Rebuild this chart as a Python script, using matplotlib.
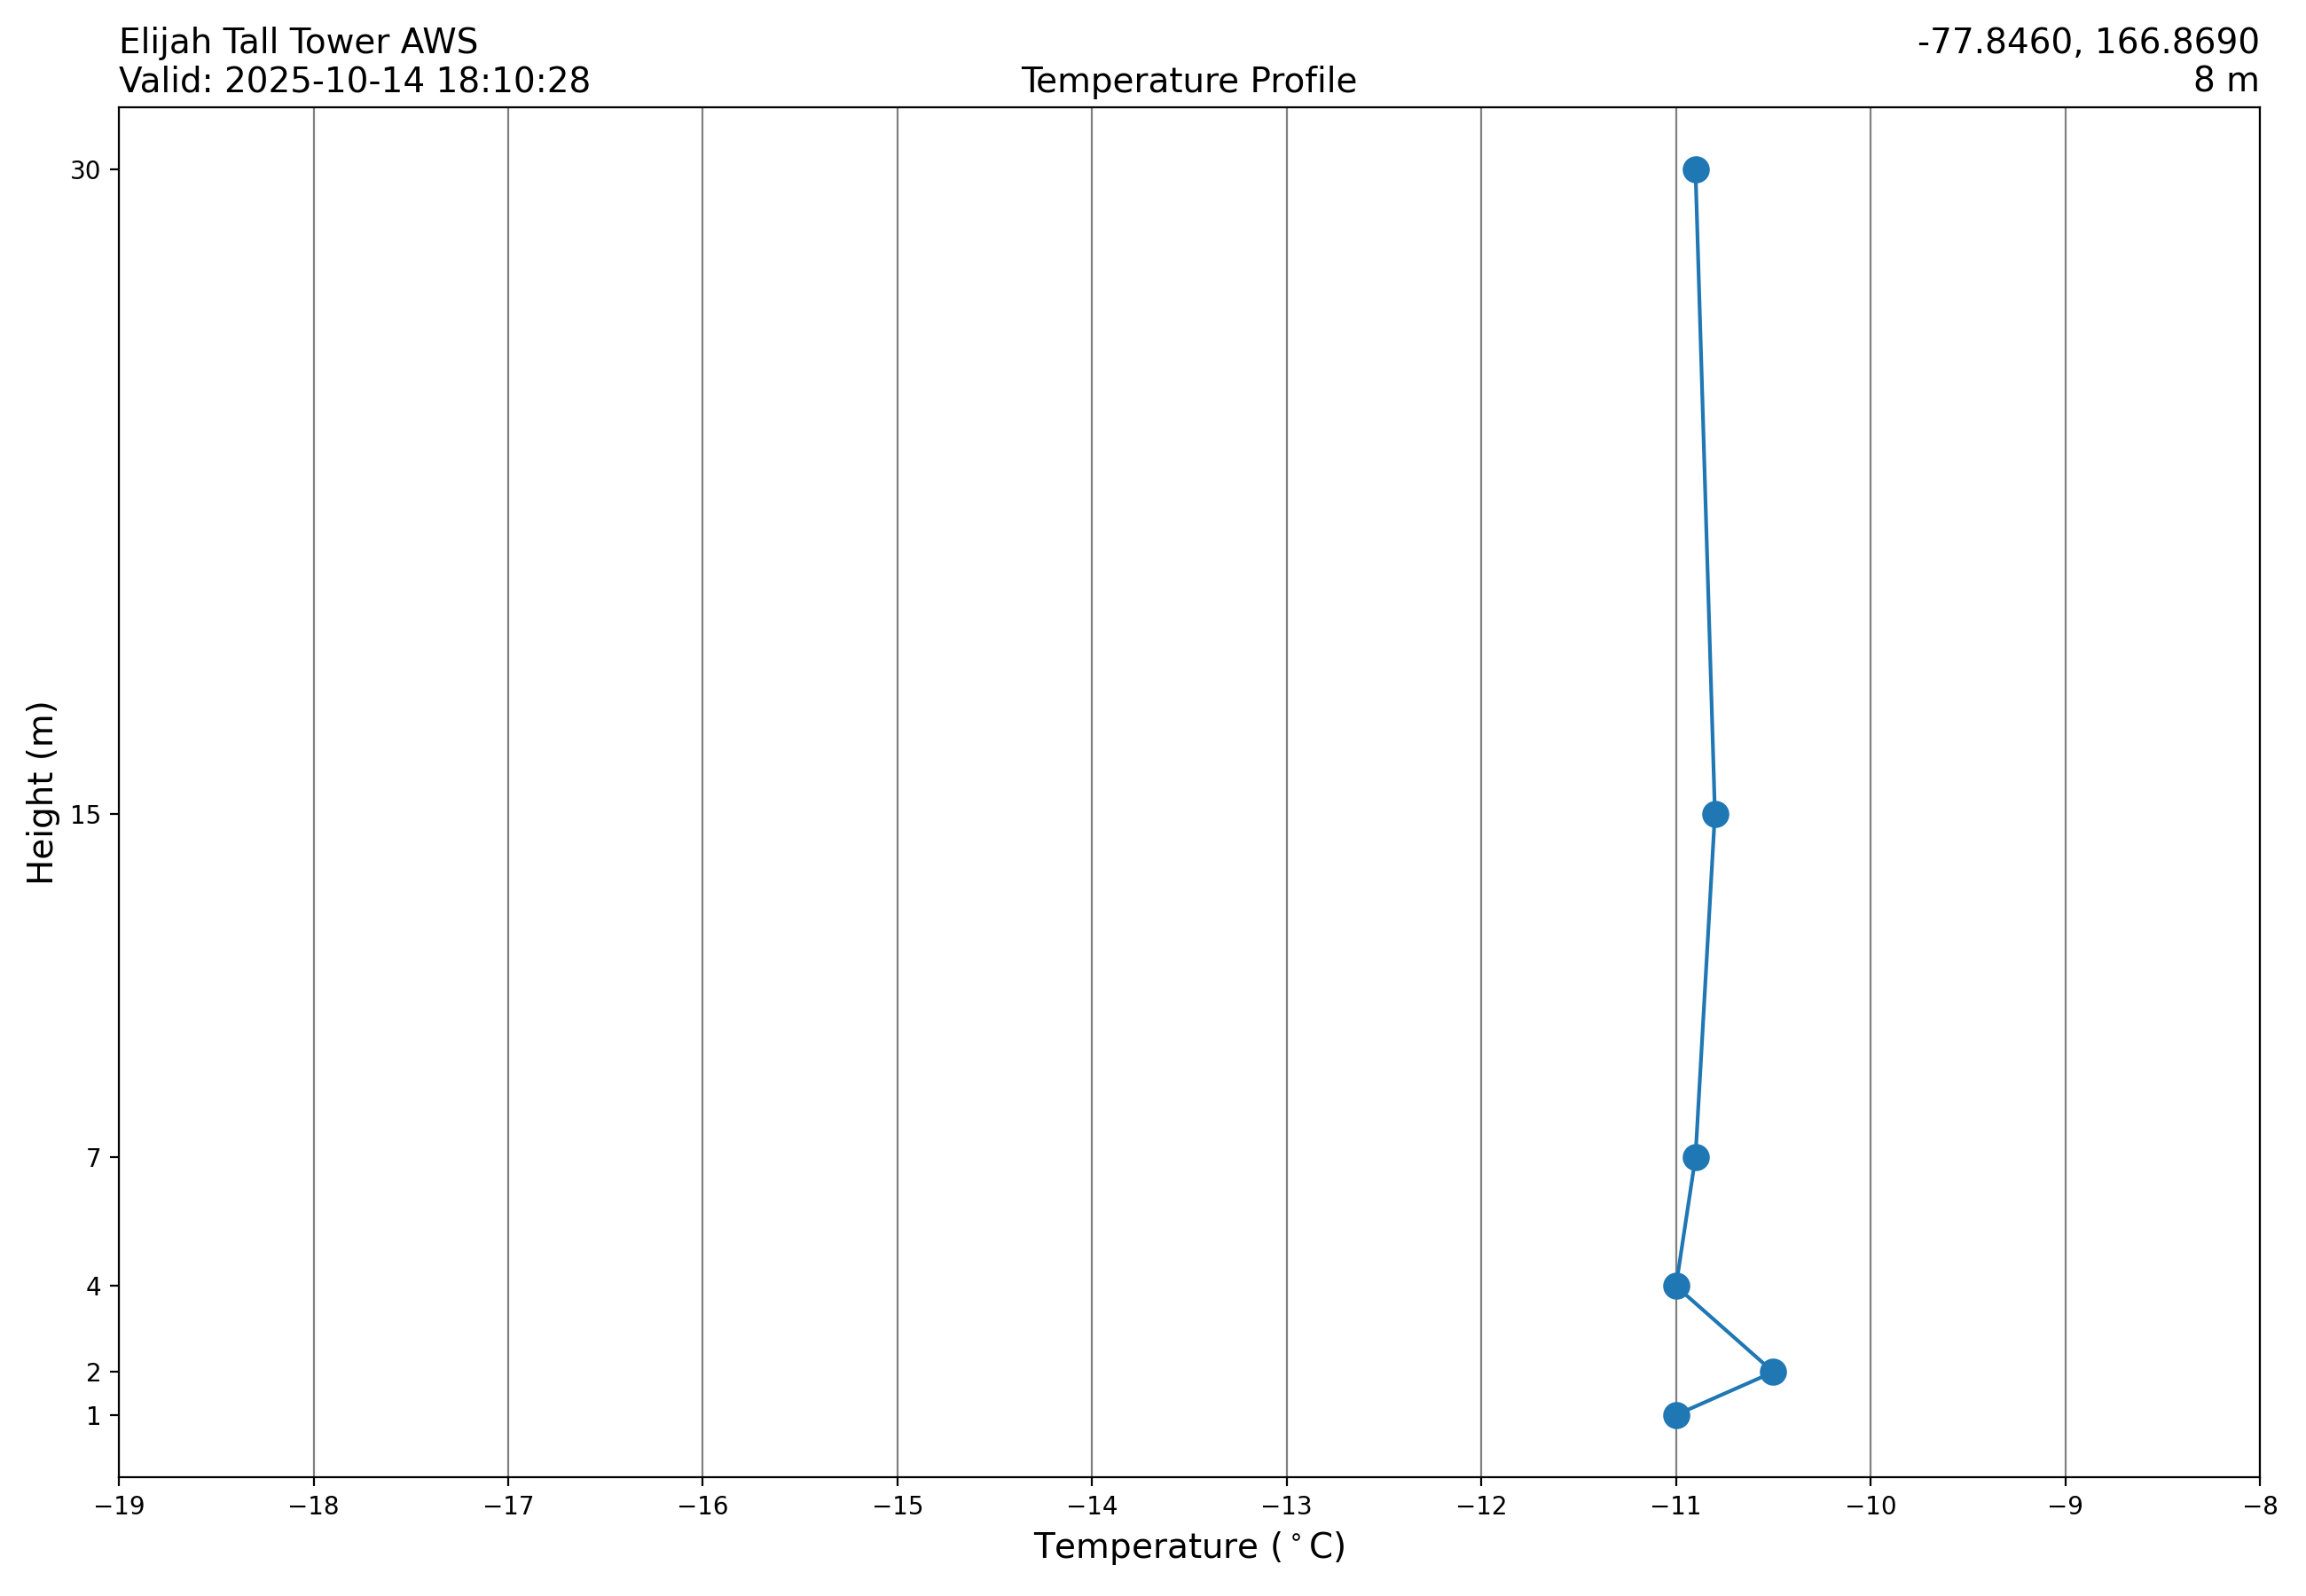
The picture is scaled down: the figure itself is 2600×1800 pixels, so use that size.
import matplotlib
matplotlib.use("Agg")
import matplotlib.pyplot as plt

heights = [1, 2, 4, 7, 15, 30]
temps = [-11.0, -10.5, -11.0, -10.9, -10.8, -10.9]
xticks = list(range(-19, -7))

fig, ax = plt.subplots(figsize=(13, 9), dpi=200)
ax.plot(temps, heights, marker='o', markersize=10, color='#1f77b4', linewidth=1.5)
ax.set_xlim(-19, -8)
ax.set_xticks(xticks)
ax.set_yticks(heights)
ax.set_yticklabels([str(h) for h in heights])
ax.grid(axis='x', color='gray', linewidth=0.8)
ax.set_xlabel('Temperature ($^\\circ$C)', fontsize=14)
ax.set_ylabel('Height (m)', fontsize=14)
ax.set_title('Elijah Tall Tower AWS\nValid: 2025-10-14 18:10:28', loc='left', fontsize=14)
ax.set_title('Temperature Profile', loc='center', fontsize=14)
ax.set_title('-77.8460, 166.8690\n8 m', loc='right', fontsize=14)
fig.subplots_adjust(left=0.0516, right=0.980, top=0.933, bottom=0.0744)
fig.savefig('out.png', dpi=200)
